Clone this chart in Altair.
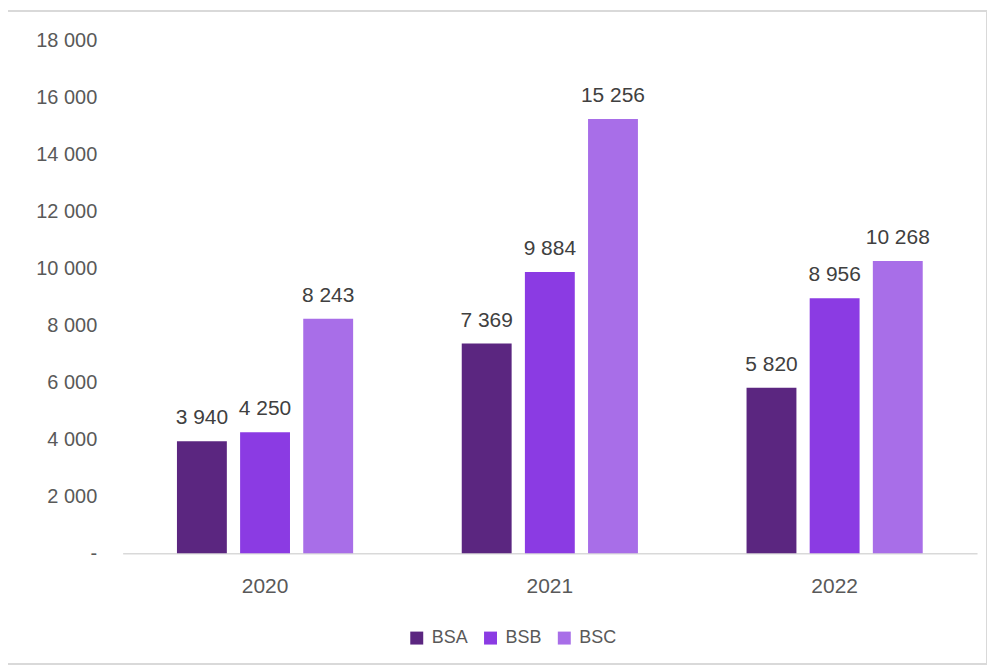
import altair as alt
import pandas as pd

years = ["2020", "2021", "2022"]
series = ["BSA", "BSB", "BSC"]
bsa = [3940, 7369, 5820]
bsb = [4250, 9884, 8956]
bsc = [8243, 15256, 10268]
colors = ["#5B2680", "#8B3BE3", "#A86EE8"]

rows = []
for i, y in enumerate(years):
    for s, vals in zip(series, [bsa, bsb, bsc]):
        rows.append({"year": y, "series": s, "value": vals[i]})
df = pd.DataFrame(rows)
df["label"] = df["value"].map(lambda v: f"{v:,}".replace(",", " "))

FONT = "Liberation Sans"
TXT = "#595959"

x = alt.X("year:N", sort=years, title=None,
          scale=alt.Scale(paddingInner=0, paddingOuter=0),
          axis=alt.Axis(labelAngle=0, ticks=False, domainColor="#d9d9d9", domainWidth=1.5,
                        labelPadding=22, labelFontSize=21, labelColor=TXT, labelFont=FONT))
xoff = alt.XOffset("series:N", sort=series,
                   scale=alt.Scale(paddingInner=0.21, paddingOuter=0.86))
y = alt.Y("value:Q", title=None,
          scale=alt.Scale(domain=[0, 18000], nice=False),
          axis=alt.Axis(values=list(range(0, 18001, 2000)), grid=False, domain=False, ticks=False,
                        labelPadding=26, labelFontSize=20, labelColor=TXT, labelFont=FONT,
                        labelExpr="datum.value == 0 ? '-\u2007\u2007' : replace(format(datum.value, ','), ',', ' ')"))
color = alt.Color("series:N", sort=series, title=None,
                  scale=alt.Scale(domain=series, range=colors),
                  legend=alt.Legend(orient="none", direction="horizontal", legendX=286, legendY=590,
                                    symbolType="square", symbolSize=169, symbolStrokeWidth=0,
                                    labelFontSize=18, labelColor=TXT, labelFont=FONT,
                                    columnPadding=13, labelOffset=6))

bars = alt.Chart(df).mark_bar().encode(x=x, xOffset=xoff, y=y, color=color)
labels = alt.Chart(df).mark_text(baseline="alphabetic", dy=-17, fontSize=21, color="#404040", font=FONT).encode(
    x=x, xOffset=xoff, y=y, text="label:N")

border = alt.Chart(alt.Data(values=[{"a": 1}])).mark_rect(fill="transparent", stroke="#d9d9d9", strokeWidth=2).encode(
    x=alt.value(-116), x2=alt.value(867), y=alt.value(-30), y2=alt.value(625))

chart = alt.layer(border, bars, labels).properties(
    width=857, height=514,
    padding={"left": 115, "top": 32, "right": 10, "bottom": 111},
    autosize=alt.AutoSizeParams(type="none"),
    background="white",
).configure_view(stroke=None)

chart.save("out.html", embed_options={"renderer": "svg", "actions": False})
